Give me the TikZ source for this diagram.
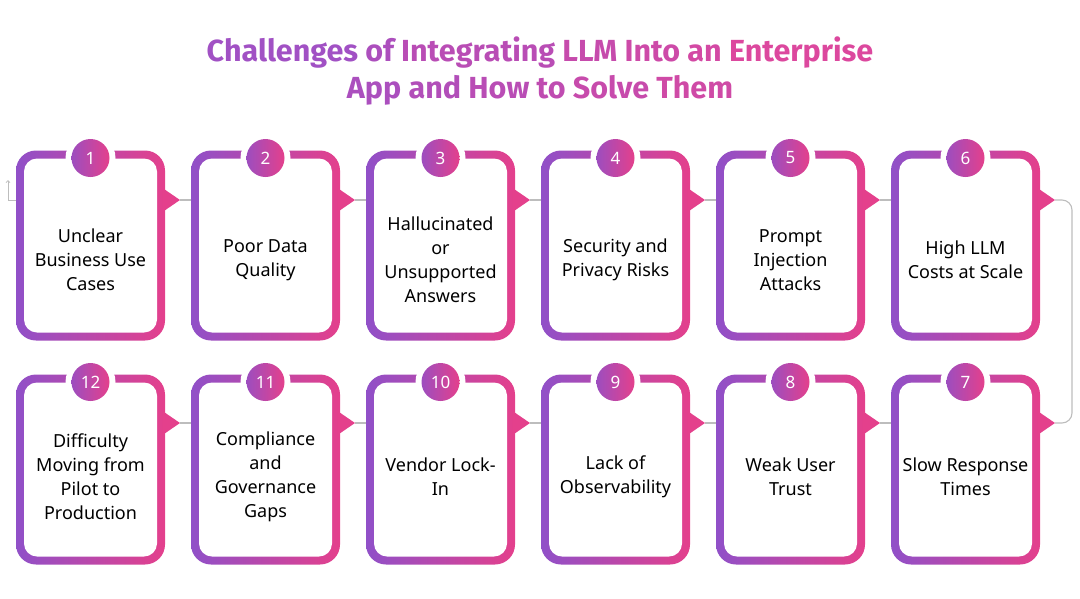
\documentclass[tikz,border=0pt]{standalone}
\usepackage{fontspec}
\setmainfont{Noto Sans}
\newfontfamily\titlefont{Fira Sans}
\usetikzlibrary{arrows.meta}

\definecolor{cpurple}{HTML}{9050C8}
\definecolor{cpink}{HTML}{E4408C}
\definecolor{tpurple}{HTML}{9A52C9}
\definecolor{tpink}{HTML}{E2479A}
\definecolor{conngray}{HTML}{BDBDBD}

% one title word, coloured by its place on the line
\newcommand{\tw}[2]{\textcolor{tpink!#1!tpurple}{#2}}

\tikzset{
  cardouter/.style={rounded corners=20pt, minimum width=149pt, minimum height=190pt,
    inner sep=0pt, left color=cpurple, right color=cpink},
  cardinner/.style={fill=white, rounded corners=13pt, minimum width=133pt,
    minimum height=174pt, inner sep=0pt},
  cardtext/.style={align=center, font=\fontsize{18}{24}\selectfont, text=black},
  numdot/.style={circle, minimum size=38pt, inner sep=0pt, left color=cpurple!85!cpink,
    right color=cpink, text=white, font=\fontsize{17}{20}\selectfont\bfseries},
  conn/.style={draw=conngray, line width=1.1pt},
}

\begin{document}
\begin{tikzpicture}[x=1pt,y=-1pt]
    \useasboundingbox (0,0) rectangle (1080,598);

    % Title
    \node[font=\titlefont\fontsize{30.5}{37}\selectfont\bfseries, align=center] (title) at (540,71)
        {\tw{10}{Challenges} \tw{25}{of} \tw{43}{Integrating} \tw{61}{LLM} \tw{71}{Into} \tw{79}{an} \tw{92}{Enterprise}\\
         \tw{24}{App} \tw{34}{and} \tw{43}{How} \tw{51}{to} \tw{62}{Solve} \tw{74}{Them}};

    % Top row
    \foreach \n/\cx/\txt in {1/90.5/{Unclear\\Business Use\\Cases}, 2/265.5/{Poor Data\\Quality},
        3/440.5/{Hallucinated\\or\\Unsupported\\Answers}, 4/615.5/{Security and\\Privacy Risks},
        5/790.5/{Prompt\\Injection\\Attacks}, 6/965.5/{High LLM\\Costs at Scale}} {
        \node[cardouter] (c\n) at (\cx,245.5) {};
        \node[cardinner] (w\n) at (c\n) {};
        \fill[white] (\cx,158) circle (25pt);
        \node[numdot] (n\n) at (\cx,158) {\n};
        \fill[cpink] (\cx+72,188) -- (\cx+89.5,200) -- (\cx+72,212) -- cycle;
        \coordinate (t\n) at (\cx+89.5,200);
        \coordinate (in\n) at (\cx-74.5,200);
        \node[cardtext] (l\n) at (\cx,260) {\txt};
    }

    % Bottom row
    \foreach \n/\cx/\txt in {12/90.5/{Difficulty\\Moving from\\Pilot to\\Production},
        11/265.5/{Compliance\\and\\Governance\\Gaps}, 10/440.5/{Vendor Lock-\\In},
        9/615.5/{Lack of\\Observability}, 8/790.5/{Weak User\\Trust}, 7/965.5/{Slow Response\\Times}} {
        \node[cardouter] (c\n) at (\cx,469.5) {};
        \node[cardinner] (w\n) at (c\n) {};
        \fill[white] (\cx,382) circle (25pt);
        \node[numdot] (n\n) at (\cx,382) {\n};
        \fill[cpink] (\cx+72,411) -- (\cx+89.5,423) -- (\cx+72,435) -- cycle;
        \coordinate (t\n) at (\cx+89.5,423);
        \coordinate (in\n) at (\cx-74.5,423);
        \node[cardtext] (l\n) at (\cx,477) {\txt};
    }

    % Connectors
    \foreach \a/\b in {1/2, 2/3, 3/4, 4/5, 5/6, 12/11, 11/10, 10/9, 9/8, 8/7}
        \draw[conn] (t\a) -- (in\b);
    \coordinate (bend) at (1072,200);
    \draw[conn, rounded corners=10pt] (t6) -- (bend) |- (t7);
    \coordinate (s0) at (8,180);
    \draw[conn, line width=0.8pt, -{Straight Barb[length=2pt]}] (in1) -| (s0);
\end{tikzpicture}
\end{document}
